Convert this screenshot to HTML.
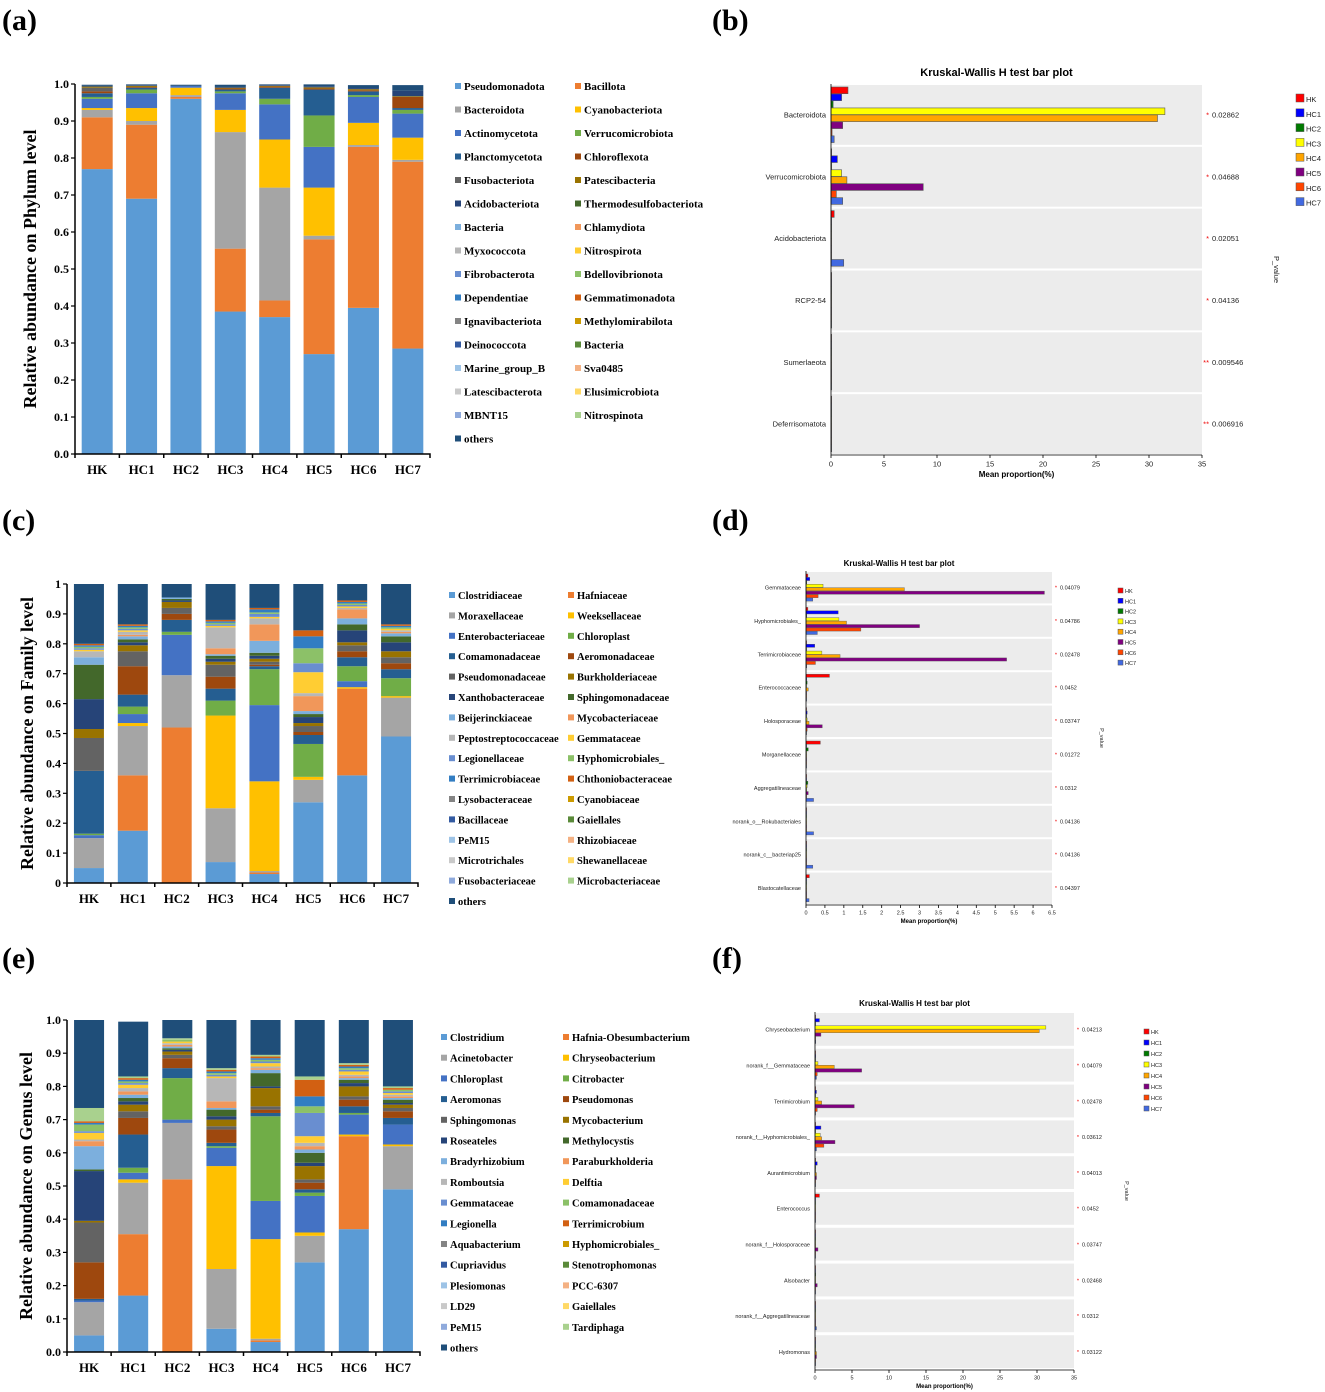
<!DOCTYPE html>
<html><head><meta charset="utf-8"><style>
body{margin:0;background:#fff;}
svg{display:block;}
</style></head><body>
<svg id="fig" width="1325" height="1392" xmlns="http://www.w3.org/2000/svg">
<text x="2" y="30" font-family="Liberation Serif, serif" font-weight="bold" font-size="30">(a)</text>
<text x="712" y="30" font-family="Liberation Serif, serif" font-weight="bold" font-size="30">(b)</text>
<text x="2" y="530" font-family="Liberation Serif, serif" font-weight="bold" font-size="30">(c)</text>
<text x="712" y="530" font-family="Liberation Serif, serif" font-weight="bold" font-size="30">(d)</text>
<text x="2" y="968" font-family="Liberation Serif, serif" font-weight="bold" font-size="30">(e)</text>
<text x="712" y="968" font-family="Liberation Serif, serif" font-weight="bold" font-size="30">(f)</text>
</svg>
<script>
const groups = ["HK","HC1","HC2","HC3","HC4","HC5","HC6","HC7"];
const palette = ["#5b9bd5","#ed7d31","#a5a5a5","#ffc000","#4472c4","#70ad47","#255e91","#9e480e","#636363","#997300","#264478","#43682b","#7cafdd","#f1975a","#b7b7b7","#ffcd33","#698ed0","#8cc168","#327dc2","#d26012","#848484","#cc9a00","#335aa1","#5a8a39","#9dc3e6","#f4b183","#c9c9c9","#ffd966","#8faadc","#a9d18e","#1f4e79"];

const phylumNames = ["Pseudomonadota","Bacillota","Bacteroidota","Cyanobacteriota","Actinomycetota","Verrucomicrobiota","Planctomycetota","Chloroflexota","Fusobacteriota","Patescibacteria","Acidobacteriota","Thermodesulfobacteriota","Bacteria","Chlamydiota","Myxococcota","Nitrospirota","Fibrobacterota","Bdellovibrionota","Dependentiae","Gemmatimonadota","Ignavibacteriota","Methylomirabilota","Deinococcota","Bacteria","Marine_group_B","Sva0485","Latescibacterota","Elusimicrobiota","MBNT15","Nitrospinota","others"];
const phylumRows = [
 [0,[.77,.69,.96,.385,.37,.27,.395,.285]],
 [1,[.14,.20,.005,.17,.045,.31,.435,.505]],
 [2,[.02,.01,.005,.315,.305,.01,.005,.005]],
 [3,[.005,.035,.02,.06,.13,.13,.06,.06]],
 [4,[.025,.04,.005,.045,.095,.11,.07,.065]],
 [5,[.005,.01,0,.005,.015,.085,.005,.01]],
 [6,[.01,.005,0,.005,.03,.07,.01,.005]],
 [7,[.005,.002,0,.003,.003,.003,.003,.03]],
 [8,[.01,0,0,0,0,0,0,0]],
 [9,[.003,.003,0,.002,.002,.003,.003,.002]],
 [10,[.002,.002,0,.002,.002,.003,.003,.015]],
 [30,[.003,.002,.003,.006,.002,.005,.008,.015]]
];
const familyNames = ["Clostridiaceae","Hafniaceae","Moraxellaceae","Weeksellaceae","Enterobacteriaceae","Chloroplast","Comamonadaceae","Aeromonadaceae","Pseudomonadaceae","Burkholderiaceae","Xanthobacteraceae","Sphingomonadaceae","Beijerinckiaceae","Mycobacteriaceae","Peptostreptococcaceae","Gemmataceae","Legionellaceae","Hyphomicrobiales_","Terrimicrobiaceae","Chthoniobacteraceae","Lysobacteraceae","Cyanobiaceae","Bacillaceae","Gaiellales","PeM15","Rhizobiaceae","Microtrichales","Shewanellaceae","Fusobacteriaceae","Microbacteriaceae","others"];
const familyRows = [
 [0,[.05,.175,0,.07,.03,.27,.36,.49]],
 [1,[0,.185,.52,0,.005,0,.29,0]],
 [2,[.10,.165,.175,.18,.005,.075,0,.13]],
 [3,[0,.01,0,.31,.30,.01,.005,.005]],
 [4,[.01,.03,.135,0,.255,0,.02,0]],
 [5,[.005,.025,.01,.05,.12,.11,.05,.06]],
 [6,[.21,.04,.04,.04,.01,.03,.03,.03]],
 [7,[0,.095,.02,.04,.005,.01,.02,.02]],
 [8,[.11,.05,.02,.04,.01,.02,.02,.02]],
 [9,[.03,.02,.02,.01,.01,.01,.01,.02]],
 [10,[.10,.01,.005,.01,.01,.02,.04,.03]],
 [11,[.115,.01,.005,.01,.01,.01,.02,.02]],
 [12,[.025,.01,.005,.005,.04,.01,.02,.01]],
 [13,[0,.005,0,.02,.055,.05,.03,.005]],
 [14,[.02,.01,0,.07,.02,.01,.005,.005]],
 [15,[.005,.005,0,.005,.005,.07,.005,.005]],
 [16,[.005,.005,0,.005,.01,.03,.005,0]],
 [17,[.005,.005,0,.005,.005,.05,.005,.005]],
 [18,[.005,.005,0,.005,.01,.04,.005,.005]],
 [19,[.005,.005,0,.005,.005,.02,.005,.005]],
 [30,[.20,.135,.045,.12,.08,.155,.055,.135]]
];
const genusNames = ["Clostridium","Hafnia-Obesumbacterium","Acinetobacter","Chryseobacterium","Chloroplast","Citrobacter","Aeromonas","Pseudomonas","Sphingomonas","Mycobacterium","Roseateles","Methylocystis","Bradyrhizobium","Paraburkholderia","Romboutsia","Delftia","Gemmataceae","Comamonadaceae","Legionella","Terrimicrobium","Aquabacterium","Hyphomicrobiales_","Cupriavidus","Stenotrophomonas","Plesiomonas","PCC-6307","LD29","Gaiellales","PeM15","Tardiphaga","others"];
const genusRows = [
 [0,[.05,.17,0,.07,.03,.27,.37,.49]],
 [1,[0,.185,.52,0,.005,0,.28,0]],
 [2,[.10,.155,.17,.18,.005,.08,0,.13]],
 [3,[0,.01,0,.31,.30,.01,.005,.005]],
 [4,[.005,.02,.01,.055,.115,.11,.06,.06]],
 [5,[0,.015,.125,.005,.255,.01,.005,0]],
 [6,[.005,.10,.03,.01,.01,.01,.02,.02]],
 [7,[.11,.05,.03,.04,.01,.02,.02,.02]],
 [8,[.12,.02,.01,.01,.01,.01,.01,.01]],
 [9,[.005,.02,.01,.02,.055,.04,.03,.01]],
 [10,[.15,.01,.005,.01,.005,.01,.01,.005]],
 [11,[.005,.01,.005,.02,.04,.03,.01,.01]],
 [12,[.07,.01,.005,.005,.01,.01,.005,.005]],
 [13,[.015,.01,.005,.02,.005,.01,.005,.005]],
 [14,[.005,.01,.005,.07,.005,.01,.005,.005]],
 [15,[.02,.01,.005,.005,.01,.02,.01,.005]],
 [16,[.005,.005,0,.005,.005,.07,.005,.005]],
 [17,[.02,.005,.005,.005,.005,.02,.005,.005]],
 [18,[.005,.005,0,.005,.005,.03,.005,0]],
 [19,[.005,.005,0,.005,.005,.05,.005,.005]],
 [29,[.04,.005,.005,.005,.005,.01,.005,.005]],
 [30,[.265,.165,.055,.145,.105,.17,.13,.2]]
];

const kwColors = ["#ff0000","#0000ff","#007a00","#ffff00","#ffa500","#800080","#ff4500","#4169e1"];
const kwbCats = ["Bacteroidota","Verrucomicrobiota","Acidobacteriota","RCP2-54","Sumerlaeota","Deferrisomatota"];
const kwbVals = [[1.6,1.0,0.2,31.5,30.8,1.1,0.1,0.3],[0.05,0.6,0.05,1.0,1.5,8.7,0.5,1.1],[0.3,0.05,0.05,0.05,0.05,0.05,0.05,1.2],[0.05,0.02,0.02,0.02,0.02,0.02,0.02,0.05],[0.02,0.02,0.02,0.02,0.02,0.02,0.02,0.02],[0.02,0.02,0.02,0.02,0.02,0.02,0.02,0.02]];
const kwbP = ["0.02862","0.04688","0.02051","0.04136","0.009546","0.006916"];
const kwbStars = ["*","*","*","*","**","**"];
const kwbTicks = [0,5,10,15,20,25,30,35];
const kwdCats = ["Gemmataceae","Hyphomicrobiales_","Terrimicrobiaceae","Enterococcaceae","Holosporaceae","Morganellaceae","Aggregatilineaceae","norank_o__Rokubacteriales","norank_c__bacteriap25","Blastocatellaceae"];
const kwdVals = [[0.05,0.1,0.02,0.45,2.6,6.3,0.32,0.18],[0.05,0.85,0.02,0.87,1.07,3.0,1.45,0.3],[0.01,0.23,0.01,0.42,0.9,5.3,0.25,0.02],[0.62,0.02,0.03,0.01,0.06,0.01,0.01,0.01],[0.01,0.03,0.01,0.03,0.08,0.43,0.03,0.01],[0.38,0.01,0.06,0.01,0.01,0.01,0.01,0.01],[0.01,0.01,0.05,0.03,0.01,0.06,0.01,0.2],[0.01,0.01,0.01,0.01,0.01,0.01,0.01,0.2],[0.01,0.01,0.01,0.01,0.01,0.01,0.01,0.18],[0.09,0.01,0.01,0.01,0.01,0.01,0.01,0.08]];
const kwdP = ["0.04079","0.04786","0.02478","0.0452","0.03747","0.01272","0.0312","0.04136","0.04136","0.04397"];
const kwdTicks = [0,0.5,1,1.5,2,2.5,3,3.5,4,4.5,5,5.5,6,6.5];
const kwfCats = ["Chryseobacterium","norank_f__Gemmataceae","Terrimicrobium","norank_f__Hyphomicrobiales_","Aurantimicrobium","Enterococcus","norank_f__Holosporaceae","Alsobacter","norank_f__Aggregatilineaceae","Hydromonas"];
const kwfVals = [[0.05,0.6,0.05,31.2,30.3,0.8,0.05,0.1],[0.05,0.1,0.05,0.4,2.6,6.3,0.3,0.2],[0.05,0.2,0.05,0.4,0.9,5.3,0.3,0.05],[0.05,0.8,0.05,0.7,0.9,2.7,1.2,0.2],[0.05,0.3,0.05,0.05,0.2,0.2,0.05,0.05],[0.6,0.05,0.05,0.05,0.05,0.05,0.05,0.05],[0.05,0.05,0.05,0.05,0.05,0.4,0.05,0.05],[0.05,0.05,0.1,0.05,0.05,0.3,0.05,0.05],[0.05,0.05,0.05,0.05,0.05,0.05,0.05,0.2],[0.05,0.05,0.05,0.05,0.2,0.2,0.05,0.05]];
const kwfP = ["0.04213","0.04079","0.02478","0.03612","0.04013","0.0452","0.03747","0.02468","0.0312","0.03122"];

const NS="http://www.w3.org/2000/svg";
const svg=document.getElementById('fig');
function mk(tag,attrs,parent){const e=document.createElementNS(NS,tag);for(const k in attrs)e.setAttribute(k,attrs[k]);(parent||svg).appendChild(e);return e;}

function stacked(cfg,names,rows,key){
  const g=mk('g',{});
  
  
  const yS=v=>cfg.y0-(cfg.y0-cfg.y1)*v;
  const band=(cfg.x1-cfg.x0)/groups.length;
  const xC=i=>cfg.x0+band*(i+0.5);
  for(let b=0;b<groups.length;b++){
    let acc=0;
    rows.forEach(r=>{
      const v=r[1][b]; if(!v) return;
      const rc=mk('rect',{x:xC(b)-cfg.bw/2,y:yS(acc+v),width:cfg.bw,height:yS(acc)-yS(acc+v),fill:palette[r[0]]},g);
      
      
      acc+=v;
    });
    const t=mk('text',{x:xC(b),y:cfg.y0+20,'text-anchor':'middle','font-family':'Liberation Serif, serif','font-weight':'bold','font-size':13},g);
    t.textContent=groups[b];
    
    
    const tk=mk('line',{x1:cfg.x0+band*b,x2:cfg.x0+band*b,y1:cfg.y0,y2:cfg.y0+4,stroke:'#000','stroke-width':1.5},g);
    
    
  }
  const ax=mk('path',{d:`M${cfg.x0} ${cfg.y1}V${cfg.y0}H${cfg.x1}V${cfg.y0+4}`,stroke:'#000','stroke-width':1.5,fill:'none'},g);
  
  
  for(let i=0;i<=10;i++){
    const v=i/10;
    const lt=mk('line',{x1:cfg.x0-4,x2:cfg.x0,y1:yS(v),y2:yS(v),stroke:'#000','stroke-width':1.2},g);
    
    
    const t=mk('text',{x:cfg.x0-6,y:yS(v)+4,'text-anchor':'end','font-family':'Liberation Serif, serif','font-weight':'bold','font-size':12},g);
    t.textContent=cfg.short?(i===0?'0':i===10?'1':v.toFixed(1)):v.toFixed(1);
    
    
  }
  const yt=mk('text',{x:0,y:0,transform:`translate(${cfg.tx},${(cfg.y0+cfg.y1)/2}) rotate(-90)`,'text-anchor':'middle','font-family':'Liberation Serif, serif','font-weight':'bold','font-size':18},g);
  yt.textContent=cfg.title;
  
  
  names.forEach((n,i)=>{
    const col=i%2,row=Math.floor(i/2);
    const x=col?cfg.lx2:cfg.lx1,y=cfg.ly+row*cfg.lstep;
    const sq=mk('rect',{x:x,y:y-4,width:6,height:6,fill:palette[i]},g);
    
    
    const t=mk('text',{x:x+9,y:y+3,'font-family':'Liberation Serif, serif','font-weight':'bold','font-size':cfg.lfs},g);
    t.textContent=n;
    
    
  });
}

function kw(cfg,cats,vals,pv,stars,ticks,key){
  const g=mk('g',{});
  
  
  const xS=v=>cfg.x0+(cfg.x1-cfg.x0)*v/cfg.max;
  const bh=(cfg.y1-cfg.top)/cats.length;
  const ff='Liberation Sans, Arial, sans-serif';
  const ti=mk('text',{x:(cfg.x0+cfg.x1)/2+cfg.toff,y:cfg.ty,'text-anchor':'middle','font-family':ff,'font-weight':'bold','font-size':cfg.tfs},g);
  ti.textContent='Kruskal-Wallis H test bar plot';
  
  
  cats.forEach((c,i)=>{
    const top=cfg.top+i*bh;
    const bg=mk('rect',{x:cfg.x0,y:top+1,width:cfg.x1-cfg.x0,height:bh-cfg.gap,fill:'#ececec'},g);
    
    
    const inner=bh-cfg.gap-4, barH=inner/8;
    vals[i].forEach((v,j)=>{
      const r=mk('rect',{x:cfg.x0,y:top+3+j*barH,width:Math.max(xS(v)-cfg.x0,0.6),height:barH-0.3,fill:kwColors[j],stroke:'#555','stroke-width':cfg.sw},g);
      
      
    });
    const cy=top+bh/2;
    const lt=mk('text',{x:cfg.x0-5,y:cy+cfg.fs/3,'text-anchor':'end','font-family':ff,'font-size':cfg.fs,fill:'#222'},g);
    lt.textContent=c;
    
    
    const st=mk('text',{x:cfg.x1+cfg.poff-3,y:cy+cfg.fs/3,'text-anchor':'end','font-family':ff,'font-size':cfg.fs,fill:'#e00'},g);
    st.textContent=stars?stars[i]:'*';
    
    
    const pt=mk('text',{x:cfg.x1+cfg.poff,y:cy+cfg.fs/3,'font-family':ff,'font-size':cfg.fs,fill:'#222'},g);
    pt.textContent=pv[i];
    
    
  });
  const ax=mk('path',{d:`M${cfg.x0} ${cfg.top}V${cfg.y1}H${cfg.x1}`,stroke:'#000','stroke-width':0.8,fill:'none'},g);
  
  
  ticks.forEach(v=>{
    const tl=mk('line',{x1:xS(v),x2:xS(v),y1:cfg.y1,y2:cfg.y1+3,stroke:'#000','stroke-width':0.8},g);
    
    
    const t=mk('text',{x:xS(v),y:cfg.y1+cfg.fs+4,'text-anchor':'middle','font-family':ff,'font-size':cfg.fs,fill:'#222'},g);
    t.textContent=String(v);
    
    
  });
  const xt=mk('text',{x:(cfg.x0+cfg.x1)/2,y:cfg.y1+2*cfg.fs+7,'text-anchor':'middle','font-family':ff,'font-weight':'bold','font-size':cfg.fs+0.5},g);
  xt.textContent='Mean proportion(%)';
  
  
  const pl=mk('text',{x:0,y:0,transform:`translate(${cfg.px},${(cfg.top+cfg.y1)/2}) rotate(90)`,'text-anchor':'middle','font-family':ff,'font-size':cfg.fs,fill:'#222'},g);
  pl.textContent='P_value';
  
  
  groups.forEach((n,j)=>{
    const y=cfg.ly+j*cfg.lstep;
    const sq=mk('rect',{x:cfg.lx,y:y-cfg.lsq,width:cfg.lsq,height:cfg.lsq,fill:kwColors[j],stroke:'#555','stroke-width':0.5},g);
    
    
    const t=mk('text',{x:cfg.lx+cfg.lsq+2,y:y,'font-family':ff,'font-size':cfg.fs,fill:'#222'},g);
    t.textContent=n;
    
    
  });
}

stacked({x0:75,x1:430,y0:454,y1:84,bw:31,tx:36,title:'Relative abundance on Phylum level',lx1:455,lx2:575,ly:87,lstep:23.5,lfs:11},phylumNames,phylumRows,'phylum');
stacked({x0:67,x1:418,y0:883,y1:584,bw:30,tx:33,short:true,title:'Relative abundance on Family level',lx1:449,lx2:568,ly:596,lstep:20.4,lfs:10.5},familyNames,familyRows,'family');
stacked({x0:67,x1:420,y0:1352,y1:1020,bw:30,tx:32,title:'Relative abundance on Genus level',lx1:441,lx2:563,ly:1038,lstep:20.7,lfs:10.5},genusNames,genusRows,'genus');

kw({x0:831,x1:1202,max:35,top:84,y1:455,gap:2,sw:0.6,fs:7.5,tfs:11,ty:76,toff:-20,poff:10,px:1274,lx:1296,ly:102,lstep:14.8,lsq:8},kwbCats,kwbVals,kwbP,kwbStars,kwbTicks,'phylum');
kw({x0:806,x1:1052,max:6.5,top:571,y1:905,gap:2,sw:0.4,fs:5.5,tfs:8,ty:566,toff:-30,poff:8,px:1100,lx:1118,ly:593,lstep:10.3,lsq:5},kwdCats,kwdVals,kwdP,null,kwdTicks,'family');
kw({x0:815,x1:1074,max:35,top:1012,y1:1370,gap:3,sw:0.4,fs:5.5,tfs:8,ty:1006,toff:-30,poff:8,px:1125,lx:1144,ly:1034,lstep:11,lsq:5},kwfCats,kwfVals,kwfP,null,kwbTicks,'genus');
</script>
</body></html>
